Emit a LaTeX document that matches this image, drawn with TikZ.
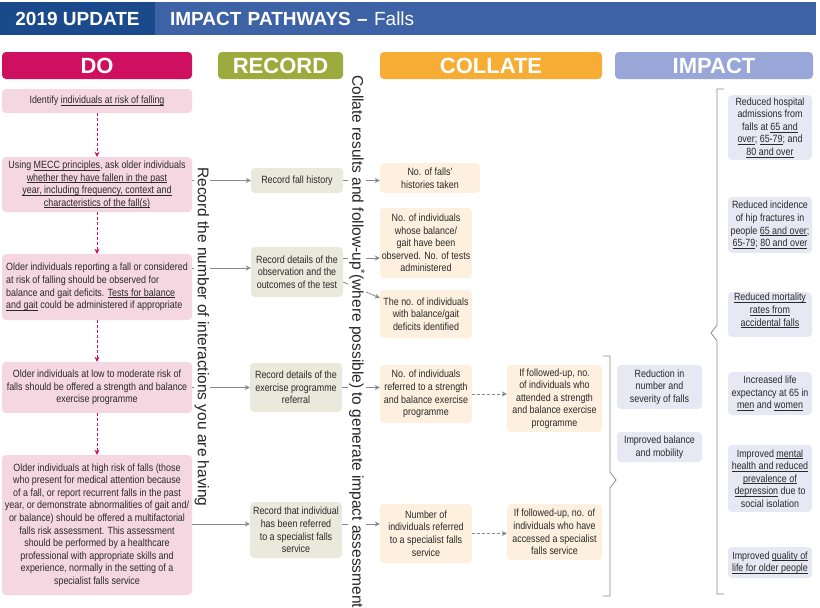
\documentclass[tikz,border=0pt]{standalone}
\usepackage{fontspec}
\setmainfont{Liberation Sans}
\newfontfamily\nf[FakeStretch=0.85]{Liberation Sans}
\usetikzlibrary{arrows.meta}
\definecolor{hdark}{HTML}{1B4A8C}
\definecolor{hlight}{HTML}{3D62A5}
\definecolor{docol}{HTML}{CF0F5F}
\definecolor{reccol}{HTML}{9CAB3D}
\definecolor{colcol}{HTML}{F7AC33}
\definecolor{impcol}{HTML}{98A7D7}
\definecolor{dofill}{HTML}{F5D7E2}
\definecolor{recfill}{HTML}{E9EADB}
\definecolor{colfill}{HTML}{FDF0DE}
\definecolor{impfill}{HTML}{E6E8F3}
\definecolor{txt}{HTML}{2A2A2A}
\definecolor{arr}{HTML}{8A8A8A}
\newcommand{\ulx}[1]{\underline{\smash{#1}}}
\begin{document}
\begin{tikzpicture}[x=1pt,y=-1pt,
  hbar/.style={inner sep=0pt, text=white, font=\bfseries\fontsize{19}{19}\selectfont},
  colhdr/.style={rounded corners=4pt, inner sep=0pt, minimum height=27pt, text=white, font=\bfseries\fontsize{22}{22}\selectfont},
  box/.style={rounded corners=4pt, inner sep=1pt, align=center, text=txt, font={\nf\fontsize{10.5}{12.6}\selectfont}},
  dobox/.style={box, fill=dofill},
  recbox/.style={box, fill=recfill},
  colbox/.style={box, fill=colfill},
  impbox/.style={box, fill=impfill},
  doarr/.style={draw=docol, line width=0.8pt, dash pattern=on 3pt off 2pt, -{Stealth[length=5pt,width=5pt]}},
  garr/.style={draw=arr, line width=0.8pt, -{Stealth[length=5pt,width=5pt]}},
  gdash/.style={garr, dash pattern=on 3pt off 2pt},
  vtext/.style={rotate=-90, fill=white, inner sep=1pt, text=black!85, font=\fontsize{15.5}{15.5}\selectfont},
  bracket/.style={draw=arr, line width=0.8pt}
]
\useasboundingbox (0,0) rectangle (820,608);
\clip (0,0) rectangle (820,608);
\fill[white] (0,0) rectangle (820,608);

% title bar
\node[hbar, fill=hdark, minimum width=155pt, minimum height=33pt] (t1) at (77.5,18.5) {2019 UPDATE};
\node[hbar, fill=hlight, minimum width=661pt, minimum height=33pt, text width=631pt, align=left, inner xsep=15pt] (t2) at (485.5,18.5) {IMPACT PATHWAYS – {\mdseries Falls}};

% column headers
\node[colhdr, fill=docol, minimum width=190pt] (hdo) at (97,65.5) {DO};
\node[colhdr, fill=reccol, minimum width=125pt] (hrec) at (280.5,65.5) {RECORD};
\node[colhdr, fill=colcol, minimum width=222pt] (hcol) at (491,65.5) {COLLATE};
\node[colhdr, fill=impcol, minimum width=198pt] (himp) at (714,65.5) {IMPACT};

% DO
\node[dobox, minimum width=190pt, minimum height=24pt] (d1) at (97,101) {Identify \ulx{individuals at risk of falling}};
\node[dobox, minimum width=190pt, minimum height=55pt] (d2) at (97,184.5) {Using \ulx{MECC principles}, ask older individuals\\\ulx{whether they have fallen in the past}\\\ulx{year, including frequency, context and}\\\ulx{characteristics of the fall(s)}};
\node[dobox, minimum width=190pt, minimum height=66pt, align=left] (d3) at (97,287) {Older individuals reporting a fall or considered\\at risk of falling should be observed for\\balance and gait deficits. \ulx{Tests for balance}\\\ulx{and gait} could be administered if appropriate};
\node[dobox, minimum width=190pt, minimum height=51pt] (d4) at (97,387.5) {Older individuals at low to moderate risk of\\falls should be offered a strength and balance\\exercise programme};
\node[dobox, minimum width=190pt, minimum height=140pt] (d5) at (97,525) {Older individuals at high risk of falls (those\\who present for medical attention because\\of a fall, or report recurrent falls in the past\\year, or demonstrate abnormalities of gait and/\\or balance) should be offered a multifactorial\\falls risk assessment. This assessment\\should be performed by a healthcare\\professional with appropriate skills and\\experience, normally in the setting of a\\specialist falls service};

% RECORD
\node[recbox, minimum width=92pt, minimum height=25pt] (r1) at (297,180.5) {Record fall history};
\node[recbox, minimum width=92pt, minimum height=50pt] (r2) at (297,272) {Record details of the\\observation and the\\outcomes of the test};
\node[recbox, minimum width=92pt, minimum height=49pt] (r3) at (296,387.5) {Record details of the\\exercise programme\\referral};
\node[recbox, minimum width=92pt, minimum height=56pt] (r4) at (296,530) {Record that individual\\has been referred\\to a specialist falls\\service};

% COLLATE
\node[colbox, minimum width=100pt, minimum height=30pt] (c1) at (430,178) {No. of falls’\\histories taken};
\node[colbox, minimum width=92pt, minimum height=70pt] (c2) at (426,243) {No. of individuals\\whose balance/\\gait have been\\observed. No. of tests\\administered};
\node[colbox, minimum width=92pt, minimum height=48pt] (c3) at (426,314) {The no. of individuals\\with balance/gait\\deficits identified};
\node[colbox, minimum width=92pt, minimum height=58pt] (c4) at (426,394) {No. of individuals\\referred to a strength\\and balance exercise\\programme};
\node[colbox, minimum width=92pt, minimum height=59pt] (c5) at (426,533.5) {Number of\\individuals referred\\to a specialist falls\\service};
\node[colbox, minimum width=95pt, minimum height=67pt] (c6) at (554.5,398.5) {If followed-up, no.\\of individuals who\\attended a strength\\and balance exercise\\programme};
\node[colbox, minimum width=95pt, minimum height=56pt] (c7) at (554.5,532) {If followed-up, no. of\\individuals who have\\accessed a specialist\\falls service};

% IMPACT middle
\node[impbox, minimum width=85pt, minimum height=44pt] (i1) at (659.5,387) {Reduction in\\number and\\severity of falls};
\node[impbox, minimum width=85pt, minimum height=30pt] (i2) at (659.5,447) {Improved balance\\and mobility};

% IMPACT right
\node[impbox, minimum width=84pt, minimum height=65pt] (i3) at (770,127.5) {Reduced hospital\\admissions from\\falls at \ulx{65 and}\\\ulx{over}; \ulx{65-79}; and\\\ulx{80 and over}};
\node[impbox, minimum width=84pt, minimum height=56pt] (i4) at (770,225) {Reduced incidence\\of hip fractures in\\people \ulx{65 and over};\\\ulx{65-79}; \ulx{80 and over}};
\node[impbox, minimum width=84pt, minimum height=45pt] (i5) at (770,314.5) {\ulx{Reduced mortality}\\\ulx{rates from}\\\ulx{accidental falls}};
\node[impbox, minimum width=84pt, minimum height=43pt] (i6) at (770,393.5) {Increased life\\expectancy at 65 in\\\ulx{men} and \ulx{women}};
\node[impbox, minimum width=84pt, minimum height=67pt] (i7) at (770,478.5) {Improved \ulx{mental}\\\ulx{health and reduced}\\\ulx{prevalence of}\\\ulx{depression} due to\\social isolation};
\node[impbox, minimum width=84pt, minimum height=31pt] (i8) at (770,562.5) {Improved \ulx{quality of}\\\ulx{life for older people}};

% DO dashed arrows
\draw[doarr] (d1) -- (d2);
\draw[doarr] (d2) -- (d3);
\draw[doarr] (d3) -- (d4);
\draw[doarr] (d4) -- (d5);

% DO -> RECORD
\coordinate (r2w) at ([yshift=4pt]r2.west);
\coordinate (r4w) at ([yshift=6pt]r4.west);
\draw[garr] (d2.east |- r1.west) -- (r1.west);
\draw[garr] (d3.east |- r2w) -- (r2w);
\draw[garr] (d4.east |- r3.west) -- (r3.west);
\draw[garr] (d5.east |- r4w) -- (r4w);

% RECORD -> COLLATE
\coordinate (r2a) at ([yshift=14pt]r2.east);
\coordinate (r2b) at ([yshift=-10pt]r2.east);
\coordinate (c3a) at ([yshift=16pt]c3.west);
\coordinate (r4e) at ([yshift=6pt]r4.east);
\draw[garr] (r1.east) -- (r1.east -| c1.west);
\draw[garr] (r2a) -- (r2a -| c2.west);
\draw[garr] (r2b) -- (c3a);
\draw[garr] (r3.east) -- (r3.east -| c4.west);
\draw[garr] (r4e) -- (r4e -| c5.west);

% COLLATE -> follow-up
\draw[gdash] (c4.east) -- (c4.east -| c6.west);
\draw[gdash] (c5.east) -- (c5.east -| c7.west);

% vertical texts
\node[vtext, anchor=west] (vt1) at (202,166) {Record the number of interactions you are having};
\node[vtext, anchor=west] (vt2) at (357,74) {Collate results and follow-up\textsuperscript{*}(where possible) to generate impact assessment};

% brackets
\draw[bracket] (603,356) -- (610,356) -- (610,472) -- (616,480) -- (610,488) -- (610,596) -- (603,596);
\draw[bracket] (724,89) -- (717,89) -- (717,325) -- (711,333) -- (717,341) -- (717,594) -- (724,594);
\end{tikzpicture}
\end{document}
